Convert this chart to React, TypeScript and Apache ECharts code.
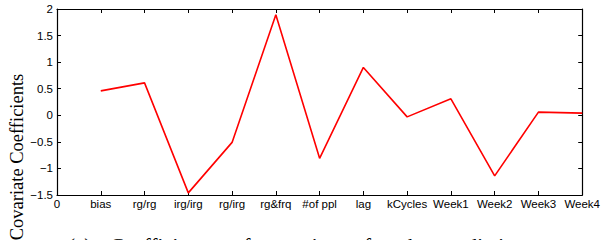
import React, { useEffect, useRef } from "react";
import * as echarts from "echarts";

const tickLabels = ["0", "bias", "rg/rg", "irg/irg", "rg/irg", "rg&frq", "#of ppl", "lag", "kCycles", "Week1", "Week2", "Week3", "Week4"];
const covariates = ["bias", "rg/rg", "irg/irg", "rg/irg", "rg&frq", "#of ppl", "lag", "kCycles", "Week1", "Week2", "Week3", "Week4"];
const coefficients = [0.46, 0.61, -1.46, -0.51, 1.89, -0.81, 0.9, -0.03, 0.31, -1.14, 0.06, 0.04];
const yTicks = [-1.5, -1, -0.5, 0, 0.5, 1, 1.5, 2];
const yTitle = "Covariate Coefficients";

const captionWords = [
  { text: "(a)", x: 68 },
  { text: "Coefficients", x: 110 },
  { text: "of", x: 233 },
  { text: "covariates", x: 265 },
  { text: "for", x: 364 },
  { text: "tube", x: 392 },
  { text: "prediction", x: 440 },
];

export default function App() {
  const ref = useRef<HTMLDivElement>(null);
  useEffect(() => {
    if (!ref.current) return;
    const chart = echarts.init(ref.current, null, { renderer: "svg" });
    const sans = "Liberation Sans";
    const axisLine = { show: true, onZero: false, lineStyle: { color: "#000", width: 1.2 } };
    const tick = { show: true, inside: true, length: 4, lineStyle: { color: "#000", width: 1 } };
    const fmtY = (v: number) => (v < 0 ? "\u2212" + String(-v) : String(v));
    chart.setOption({
      animation: false,
      backgroundColor: "#fff",
      grid: { left: 57, top: 9, right: 17, bottom: 45, containLabel: false },
      xAxis: [
        {
          type: "value",
          min: 0,
          max: 12,
          interval: 1,
          position: "bottom",
          axisLine,
          axisTick: tick,
          splitLine: { show: false },
          axisLabel: {
            color: "#000",
            fontFamily: sans,
            fontSize: 11.5,
            margin: 3,
            formatter: (v: number) => tickLabels[Math.round(v)] ?? "",
          },
        },
        {
          type: "value",
          min: 0,
          max: 12,
          interval: 1,
          position: "top",
          axisLine,
          axisTick: tick,
          splitLine: { show: false },
          axisLabel: { show: false },
        },
      ],
      yAxis: [
        {
          type: "value",
          min: -1.5,
          max: 2,
          interval: 0.5,
          position: "left",
          axisLine,
          axisTick: tick,
          splitLine: { show: false },
          axisLabel: { color: "#000", fontFamily: sans, fontSize: 11.5, margin: 4, formatter: fmtY },
        },
        {
          type: "value",
          min: -1.5,
          max: 2,
          interval: 0.5,
          position: "right",
          axisLine,
          axisTick: tick,
          splitLine: { show: false },
          axisLabel: { show: false },
        },
      ],
      graphic: [
        {
          type: "text",
          x: 17,
          y: 157,
          rotation: Math.PI / 2,
          style: {
            text: yTitle,
            font: "18.5px 'Liberation Serif'",
            fill: "#000",
            align: "center",
            verticalAlign: "middle",
          },
          silent: true,
        },
        ...captionWords.map((w) => ({
          type: "text",
          left: w.x,
          top: 235,
          style: { text: w.text, font: "21px 'Liberation Serif'", fill: "#000" },
          silent: true,
        })),
      ],
      series: [
        {
          type: "line",
          name: "coefficients",
          data: coefficients.map((v, i) => [i + 1, v]),
          symbol: "none",
          lineStyle: { color: "#ff0000", width: 1.6 },
          xAxisIndex: 0,
          yAxisIndex: 0,
        },
      ],
    });
    return () => chart.dispose();
  }, []);
  return (
    <div
      ref={ref}
      data-covariates={covariates.length}
      data-yticks={yTicks.length}
      style={{ position: "fixed", left: 0, top: 0, width: 603, height: 240, background: "#fff" }}
    />
  );
}
